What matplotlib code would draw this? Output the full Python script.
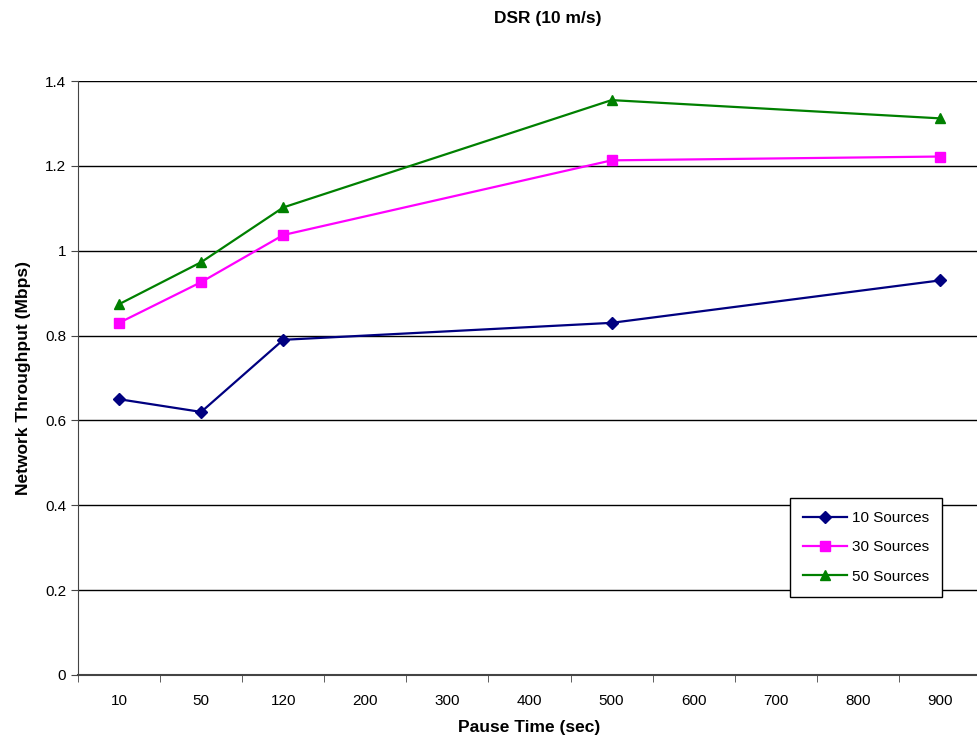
import matplotlib.pyplot as plt
import numpy as np

plt.rcParams['font.family'] = ['Liberation Sans', 'DejaVu Sans']

# categories on the x axis (Excel-style category axis)
pause_times = ['10', '50', '120', '200', '300', '400', '500', '600', '700', '800', '900']

# throughput values, None where no measurement
src10 = [0.65, 0.62, 0.79, None, None, None, 0.83, None, None, None, 0.93]
src30 = [0.83, 0.926, 1.037, None, None, None, 1.213, None, None, None, 1.222]
src50 = [0.874, 0.973, 1.102, None, None, None, 1.355, None, None, None, 1.312]

series = [
    ('10 Sources', src10, '#000080', 'D', 6),
    ('30 Sources', src30, '#FF00FF', 's', 7),
    ('50 Sources', src50, '#008000', '^', 7.5),
]

fig = plt.figure(figsize=(9.78, 7.46), dpi=100)
ax = fig.add_axes([0.0798, 0.0952, 0.9232, 0.7962])

for name, vals, col, mk, ms in series:
    x = [i for i, v in enumerate(vals) if v is not None]
    y = [v for v in vals if v is not None]
    ax.plot(x, y, color=col, marker=mk, markersize=ms, lw=1.6, label=name)

ax.set_xlim(-0.5, len(pause_times) - 0.5)
ax.set_ylim(0, 1.4)
ax.set_xticks(range(len(pause_times)))
ax.set_xticklabels(pause_times, fontsize=11)
ax.set_xticks(np.arange(-0.5, len(pause_times), 1), minor=True)
ax.tick_params(axis='x', which='major', length=0, pad=14)
ax.tick_params(axis='x', which='minor', length=5, direction='out', color='#444444')
ax.set_yticks([0, 0.2, 0.4, 0.6, 0.8, 1.0, 1.2, 1.4])
ax.set_yticklabels(['0', '0.2', '0.4', '0.6', '0.8', '1', '1.2', '1.4'], fontsize=11)
ax.tick_params(axis='y', length=5, direction='out', color='#444444')

ax.yaxis.grid(True, color='black', lw=1)
ax.set_axisbelow(True)
for s in ['top', 'right']:
    ax.spines[s].set_visible(False)
ax.spines['left'].set_color('#444444')
ax.spines['bottom'].set_color('#444444')
ax.spines['bottom'].set_linewidth(1.5)
ax.axhline(1.4, color='#808080', lw=1.5, zorder=0.5)

ax.set_xlabel('Pause Time (sec)', fontsize=12.5, fontweight='bold', labelpad=8)
ax.set_ylabel('Network Throughput (Mbps)', fontsize=12.5, fontweight='bold', labelpad=10)
fig.text(0.56, 0.975, 'DSR (10 m/s)', ha='center', va='center', fontsize=12.5, fontweight='bold')

leg = ax.legend(loc='lower right', bbox_to_anchor=(0.965, 0.119), fontsize=11,
                fancybox=False, framealpha=1, edgecolor='black', borderpad=0.85,
                labelspacing=1.0, handlelength=2.9, handletextpad=0.3)
leg.get_frame().set_linewidth(1)

fig.savefig('out.png', dpi=100)
